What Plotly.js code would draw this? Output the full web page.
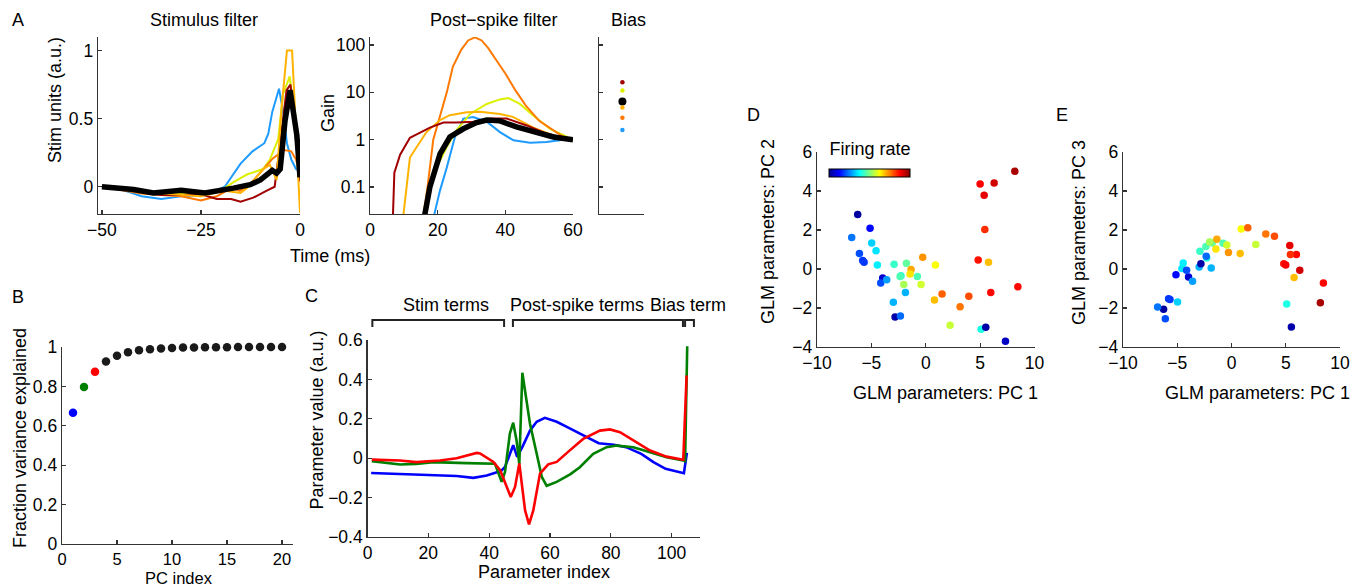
<!DOCTYPE html>
<html><head><meta charset="utf-8">
<script src="https://cdn.plot.ly/plotly-3.0.1.min.js"></script>
<style>html,body{margin:0;padding:0;background:#fff}#chart{width:1365px;height:587px}</style>
</head><body><div id="chart"></div>
<script>
// ---------- Panel A: stimulus filter (time ms, stim units) ----------
const stimTBlue = [-50,-45,-40,-35,-30,-25,-22,-19,-15,-12,-9,-8,-7,-5.3,-4.3,-3.3,-2.2,-1,0];
const stimBlue  = [0,-0.02,-0.07,-0.09,-0.07,-0.06,-0.04,0.0,0.17,0.26,0.32,0.39,0.55,0.72,0.56,0.32,0.2,0.13,0.12];
const stimTYellow = [-50,-40,-30,-25,-20,-17,-13.4,-9.3,-7.6,-5.5,-4.3,-2.6,-1.3,0];
const stimYellow  = [0,-0.04,-0.05,-0.05,-0.03,0.03,0.09,0.13,0.2,0.35,0.68,0.81,0.5,0.15];
const stimTGold = [-50,-40,-35,-30,-25,-19,-15,-13,-9.3,-7.6,-5.9,-4.7,-3.3,-2.0,-1,0];
const stimGold  = [0,-0.04,-0.05,-0.06,-0.07,-0.03,-0.045,0.0,0.13,0.16,0.05,0.56,1.0,1.0,0.4,-0.19];
const stimTOrange = [-50,-40,-35,-30,-25,-21,-17.4,-15.2,-12.6,-9.3,-6.8,-4,-2.2,-1,0];
const stimOrange  = [0,-0.05,-0.06,-0.07,-0.1,-0.07,-0.01,-0.03,0.02,0.13,0.21,0.27,0.26,0.2,0.08];
const stimTDred = [-50,-40,-35,-30,-25,-21,-17.4,-15,-11.8,-8.5,-6.4,-4.7,-3.4,-2.4,-1.2,0];
const stimDred  = [0,-0.04,-0.06,-0.06,-0.055,-0.09,-0.09,-0.11,-0.08,-0.03,0.0,0.39,0.71,0.75,0.4,0.04];
const stimTBlack = [-50,-42,-37,-30,-24,-20,-16.8,-12.6,-10,-7,-5.9,-5,-3.8,-2.5,-0.8,0];
const stimBlack  = [0,-0.02,-0.045,-0.025,-0.045,-0.02,-0.01,0.015,0.05,0.12,0.1,0.13,0.48,0.71,0.38,0.07];

// ---------- Panel A: post-spike filter (time ms, gain) ----------
const psTDred = [6.6,7.2,8.9,11.8,13.8,17.7,21.7,25.6,30.5,35.5,40.4,46.3,52,60];
const psDred  = [0.01,0.2,0.48,1.1,1.3,1.8,2.3,2.3,2.4,2.8,2.8,2.0,1.35,1.0];
const psTGold = [9.5,11.8,13.8,16.7,20.7,23.6,28.6,32.5,38.4,42.4,48.3,54,60];
const psGold  = [0.015,0.42,0.7,1.45,2.6,3.3,3.8,3.9,3.5,3.0,1.8,1.25,1.0];
const psTOrange = [15.6,17,18.7,20.7,22.7,24.5,27,29,31,33,35,37,40,43,46,50,54,57,60];
const psOrange  = [0.02,0.1,1,3.3,10,35,80,125,145,125,85,52,25,11,5.3,2.5,1.6,1.17,1.0];
const psTYellow = [16.2,17.2,19.7,22.7,25.6,29.6,34.5,38.4,40.9,44.3,48.3,53.2,60];
const psYellow  = [0.02,0.1,0.26,0.7,1.6,3.5,5.7,7.1,7.6,5.7,3.2,1.7,1.0];
const psTBlue = [18.6,20.7,22.7,25.1,27.6,30.5,34.5,38.4,42.4,47.3,52.2,57.1,60];
const psBlue  = [0.02,0.085,0.26,1.14,2.8,3.0,2.4,1.45,0.97,0.86,0.89,1.0,1.0];
const psTBlack = [15.9,17.7,20.7,23.6,27.6,31.5,34.5,38.4,43.3,48.3,54.2,60];
const psBlack  = [0.02,0.1,0.5,1.14,1.7,2.3,2.6,2.5,1.86,1.45,1.14,1.0];

// ---------- Panel A: bias ----------
const biasValues = [16.3, 11, 6.4, 4.8, 2.9, 1.6];
const biasColors = ['#A00000','#DCF000','#000000','#FFB300','#FF7800','#1E9BFF'];
const biasSizes  = [4.5,4.5,8,4.5,4.5,4.5];

// ---------- Panel B ----------
const pcIndex = [1,2,3,4,5,6,7,8,9,10,11,12,13,14,15,16,17,18,19,20];
const fracVar = [0.666,0.797,0.874,0.926,0.956,0.973,0.983,0.988,0.992,0.995,0.997,0.998,0.999,0.999,0.999,1.0,1.0,1.0,1.0,1.0];
const fracColors = ['#0000FF','#008000','#FF0000'].concat(Array(17).fill('#1a1a1a'));

// ---------- Panel C ----------
const cBlueX = [1.2,10.7,21.6,29.3,34.8,37,39.2,42.5,43.6,45.2,47.9,49.2,51,53.4,55.6,58.3,62.2,66,71,76,81,85,90,94,98,102.7,104,105];
const cBlueY = [-0.075,-0.08,-0.083,-0.09,-0.1,-0.095,-0.088,-0.071,-0.07,-0.044,0.066,0.007,0.06,0.14,0.185,0.205,0.185,0.155,0.115,0.076,0.068,0.056,0.022,-0.02,-0.054,-0.071,-0.076,0.027];
const cGreenX = [1.4,10.7,16,21.6,32.6,40.3,41.9,44.1,45.2,46.8,47.9,49,49.9,50.9,53.4,55.6,57.3,58.9,62.2,66.6,69.8,74.2,78.6,81.9,87.4,92.9,98.3,103.8,104.4,105.1];
const cGreenY = [-0.015,-0.032,-0.029,-0.02,-0.025,-0.029,-0.028,-0.12,-0.07,0.125,0.18,0.09,-0.03,0.434,0.176,0.024,-0.095,-0.14,-0.12,-0.082,-0.046,0.022,0.056,0.064,0.056,0.03,0.005,-0.012,-0.015,0.568];
const cRedX = [1.4,10.7,16,23.8,29.3,32.6,35.9,37,41.4,43.6,45.8,47.1,48.5,49.9,51.8,53.1,54.5,56.7,59.4,62.2,66.6,70.9,76.4,79.7,83,87.4,92.9,98.3,103.8,104.9];
const cRedY = [-0.007,-0.012,-0.02,-0.012,0.0,0.014,0.027,0.024,-0.019,-0.061,-0.146,-0.197,-0.146,-0.027,-0.265,-0.336,-0.265,-0.078,-0.031,-0.019,0.041,0.098,0.14,0.146,0.132,0.09,0.039,0.008,-0.008,0.42];
const bracketStarts = [1.6, 47.8, 104.4];
const bracketEnds   = [44.9, 103.7, 107.3];

// ---------- Panels D/E: cells ----------
const pc1 = [-2.28,-6.26,-5.12,-6.81,-6.1,-5.8,-5.67,-4.97,-4.57,-4.45,-3.96,-4.14,-3.59,-2.91,-1.78,-2.36,-2.02,-1.87,-2.98,-2.82,-2.33,-1.35,-1.44,-0.77,-0.43,-0.28,0.89,0.8,1.5,3.16,3.96,2.24,5.09,5.52,7.33,4.82,5.77,5.98,8.47,5.43,5.37,5.0,6.29,8.19];
const pc2 = [-0.35,2.79,2.09,1.62,0.8,0.43,0.34,1.33,0.94,0.2,-0.46,-0.72,-0.55,0.24,0.29,-0.38,-0.8,-1.2,-1.71,-2.46,-2.41,-0.03,-0.26,-0.39,-0.8,0.6,0.2,-1.59,-1.28,-1.93,-1.4,-2.89,-3.09,-2.99,-3.71,0.46,0.34,-1.2,-0.91,2.03,3.78,4.36,4.41,5.01];
const pc3 = [0.56,-2.07,-0.29,-1.95,-2.55,-1.52,-1.57,-1.69,0.02,0.31,-0.41,-0.07,-0.63,0.91,1.33,1.16,1.38,0.05,0.1,0.27,0.65,1.52,1.03,1.32,1.23,0.85,2.05,0.8,2.12,1.79,1.68,1.26,-1.79,-2.97,-4.6,0.27,-0.44,0.74,-0.72,0.75,1.21,0.21,-0.07,-1.73];
const firingRate = [0.41,0.02,0.13,0.24,0.2,0.18,0.18,0.33,0.35,0.36,0.07,0.2,0.28,0.43,0.47,0.45,0.54,0.3,0.3,0.03,0.23,0.71,0.65,0.45,0.58,0.73,0.62,0.69,0.78,0.76,0.8,0.57,0.4,0.03,0.06,0.86,0.69,0.87,0.87,0.83,0.9,0.88,0.92,0.96];

// ---------- styling ----------
const W = 1365, H = 587;
const FONT = 'Liberation Sans, Arial, Helvetica, sans-serif';
const FS = 18;
const TFS = 17.5;
const jet = [[0,'rgb(0,0,143)'],[0.125,'rgb(0,0,255)'],[0.375,'rgb(0,255,255)'],[0.625,'rgb(255,255,0)'],[0.875,'rgb(255,0,0)'],[1,'rgb(128,0,0)']];
const px = (a,b)=>[a/W, b/W];
const py = (top,bot)=>[1-bot/H, 1-top/H];
function ax(extra){
  return Object.assign({showline:true, linecolor:'#333', linewidth:1.3, ticks:'inside', ticklen:4, tickwidth:1.2, tickcolor:'#333',
    showgrid:false, zeroline:false, mirror:false, tickfont:{family:FONT,size:TFS,color:'#000'}, fixedrange:true}, extra);
}
function line(x,y,color,w,xa,ya){ return {type:'scatter',mode:'lines',x:x,y:y,line:{color:color,width:w},xaxis:xa,yaxis:ya,hoverinfo:'skip'}; }

const traces = [
  line(stimTBlue,stimBlue,'#1E9BFF',2,'x','y'),
  line(stimTYellow,stimYellow,'#DCF000',2,'x','y'),
  line(stimTOrange,stimOrange,'#FF7800',2,'x','y'),
  line(stimTDred,stimDred,'#A00000',2,'x','y'),
  line(stimTGold,stimGold,'#FFB300',2,'x','y'),
  line(stimTBlack,stimBlack,'#000000',5.5,'x','y'),
  line(psTBlue,psBlue,'#1E9BFF',2,'x2','y2'),
  line(psTYellow,psYellow,'#DCF000',2,'x2','y2'),
  line(psTOrange,psOrange,'#FF7800',2,'x2','y2'),
  line(psTGold,psGold,'#FFB300',2,'x2','y2'),
  line(psTDred,psDred,'#A00000',2,'x2','y2'),
  line(psTBlack,psBlack,'#000000',5.5,'x2','y2'),
  {type:'scatter',mode:'markers',x:biasValues.map(()=>0.52),y:biasValues,marker:{color:biasColors,size:biasSizes,opacity:1,line:{width:0}},xaxis:'x3',yaxis:'y3',hoverinfo:'skip'},
  {type:'scatter',mode:'markers',x:pcIndex,y:fracVar,marker:{color:fracColors,size:8.5},xaxis:'x4',yaxis:'y4',cliponaxis:false,hoverinfo:'skip'},
  line(cBlueX,cBlueY,'#0000FF',2.6,'x5','y5'),
  line(cGreenX,cGreenY,'#008000',2.6,'x5','y5'),
  line(cRedX,cRedY,'#FF0000',2.6,'x5','y5'),
  {type:'scatter',mode:'markers',x:pc1,y:pc2,xaxis:'x6',yaxis:'y6',hoverinfo:'skip',
    marker:{color:firingRate,cmin:0,cmax:1,colorscale:jet,size:7.5,showscale:true,
      colorbar:{orientation:'h',x:829.5/W,xanchor:'left',y:1-177.5/H,yanchor:'bottom',thickness:8,len:81,lenmode:'pixels',
        xpad:0,ypad:0,ticks:'',showticklabels:false,outlinewidth:1,outlinecolor:'#000',
        title:{text:'Firing rate',side:'top',font:{family:FONT,size:FS,color:'#000'}}}}},
  {type:'scatter',mode:'markers',x:pc1,y:pc3,xaxis:'x7',yaxis:'y7',hoverinfo:'skip',
    marker:{color:firingRate,cmin:0,cmax:1,colorscale:jet,size:7.5,showscale:false}}
];

const shapes = bracketStarts.map((s,i)=>({type:'path',xref:'x5',yref:'paper',
  path:`M ${s},${1-327/H} L ${s},${1-320/H} L ${bracketEnds[i]},${1-320/H} L ${bracketEnds[i]},${1-327/H}`,
  line:{color:'#222',width:2}}));

function ann(text,x,y,rot,fs){ return {text:text,x:x/W,y:1-y/H,xref:'paper',yref:'paper',showarrow:false,xanchor:'center',yanchor:'middle',
  textangle:rot||0,font:{family:FONT,size:fs||FS,color:'#000'}}; }
const annotations = [
  ann('A',17.5,20), ann('Stimulus filter',204,20), ann('Post\u2212spike filter',494,20), ann('Bias',628,20),
  ann('Stim units (a.u.)',55,100,-90), ann('Gain',328,113,-90), ann('Time (ms)',330,256),
  ann('B',17.5,297), ann('Fraction variance explained',20,438,-90), ann('PC index',179,577.5,0,16.5),
  ann('C',311,296), ann('Stim terms',446,305), ann('Post-spike terms',577,305), ann('Bias term',688,305),
  ann('Parameter value (a.u.)',316.5,420,-90), ann('Parameter index',544,571.5),
  ann('D',753,115), ann('GLM parameters: PC 2',768,232,-90), ann('GLM parameters: PC 1',945,393),
  ann('E',1062,115), ann('GLM parameters: PC 3',1079,233,-90), ann('GLM parameters: PC 1',1257,393)
];

const logTicks = [0.1,1,10,100];
const layout = {
  width:W, height:H, margin:{l:0,r:0,t:0,b:0}, paper_bgcolor:'#fff', plot_bgcolor:'rgba(0,0,0,0)', showlegend:false,
  font:{family:FONT,size:FS,color:'#000'},
  xaxis: ax({domain:px(98,300), range:[-51,0], tickvals:[-50,-25,0], anchor:'y'}),
  yaxis: ax({domain:py(37,214), range:[-0.2,1.1], tickvals:[0,0.5,1], anchor:'x'}),
  xaxis2: ax({domain:px(370,573), range:[0,60], tickvals:[0,20,40,60], anchor:'y2'}),
  yaxis2: ax({domain:py(37,214), type:'log', range:[-1.57,2.17], tickvals:logTicks, ticktext:['0.1','1','10','100'], anchor:'x2'}),
  xaxis3: ax({domain:px(599,644), range:[0,1], ticks:'', showticklabels:false, anchor:'y3'}),
  yaxis3: ax({domain:py(37,214), type:'log', range:[-1.57,2.17], tickvals:logTicks, showticklabels:false, anchor:'x3'}),
  xaxis4: ax({domain:px(62,293), range:[0,21], tickvals:[0,5,10,15,20], anchor:'y4', tickfont:{family:FONT,size:16.5,color:'#000'}}),
  yaxis4: ax({domain:py(347,544), range:[0,1], dtick:0.2, tick0:0, anchor:'x4'}),
  xaxis5: ax({domain:px(367.5,700), range:[0,109.3], tickvals:[0,20,40,60,80,100], anchor:'y5'}),
  yaxis5: ax({domain:py(340,537), range:[-0.4,0.6], dtick:0.2, tick0:0, anchor:'x5'}),
  xaxis6: ax({domain:px(817,1034.5), range:[-10,10], dtick:5, tick0:0, anchor:'y6'}),
  yaxis6: ax({domain:py(152,347), range:[-4,6], dtick:2, tick0:0, anchor:'x6'}),
  xaxis7: ax({domain:px(1123,1340), range:[-10,10], dtick:5, tick0:0, anchor:'y7'}),
  yaxis7: ax({domain:py(152,347), range:[-4,6], dtick:2, tick0:0, anchor:'x7'}),
  shapes: shapes,
  annotations: annotations
};
Plotly.newPlot('chart', traces, layout, {staticPlot:true, displayModeBar:false});
</script></body></html>
